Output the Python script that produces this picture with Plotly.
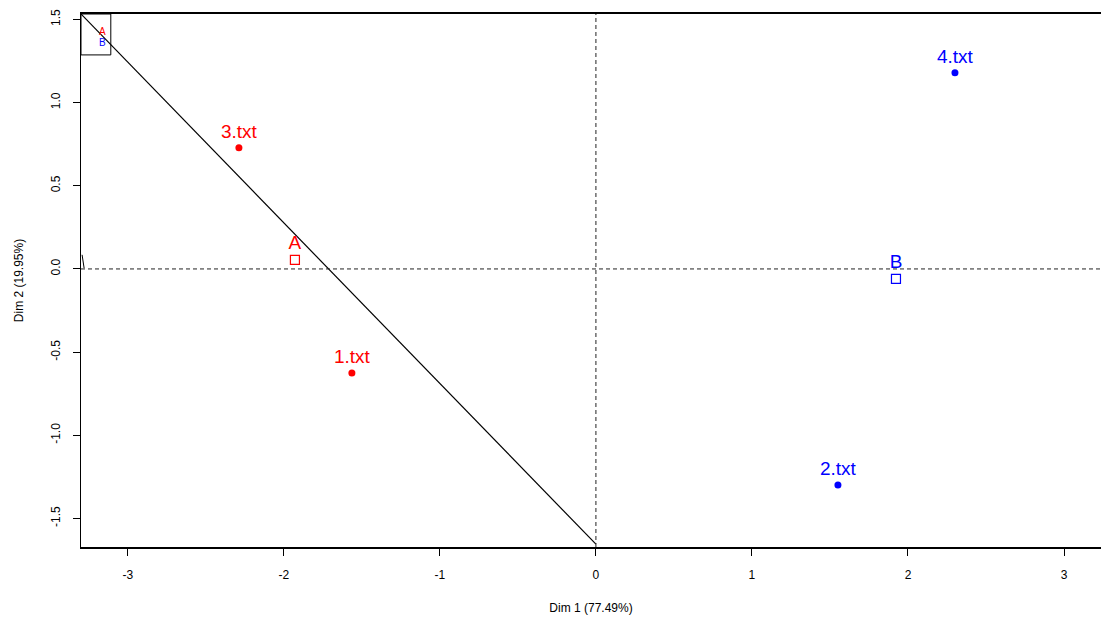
import plotly.graph_objects as go

# Individuals
ind_names = ["1.txt", "2.txt", "3.txt", "4.txt"]
ind_x = [-1.564, 1.551, -2.288, 2.301]
ind_y = [-0.625, -1.299, 0.728, 1.179]
ind_colors = ["#FF0000", "#0000FF", "#FF0000", "#0000FF"]

# Supplementary category centroids
cat_names = ["A", "B"]
cat_x = [-1.929, 1.923]
cat_y = [0.054, -0.060]
cat_colors = ["#FF0000", "#0000FF"]

# Axis
x_range = [-3.30, 3.237]
y_range = [-1.672, 1.533]
x_ticks = [-3, -2, -1, 0, 1, 2, 3]
x_ticklabels = ["-3", "-2", "-1", "0", "1", "2", "3"]
y_ticks = [-1.5, -1.0, -0.5, 0.0, 0.5, 1.0, 1.5]
y_ticklabels = ["-1.5", "-1.0", "-0.5", "0.0", "0.5", "1.0", "1.5"]

# Stray diagonal segment
diag_x = [-3.30, 0.0]
diag_y = [1.533, -1.655]

# Legend box
leg_x0, leg_x1 = -3.30, -3.109
leg_y0, leg_y1 = 1.287, 1.533

font = "Liberation Sans, Arial, sans-serif"

fig = go.Figure()

fig.add_trace(go.Scatter(x=diag_x, y=diag_y, mode="lines",
                         line=dict(color="black", width=1.2), hoverinfo="skip",
                         showlegend=False))

fig.add_trace(go.Scatter(
    x=ind_x, y=ind_y, mode="markers+text", text=ind_names,
    textposition="top center",
    textfont=dict(family=font, size=19, color=ind_colors),
    marker=dict(size=7, color=ind_colors), showlegend=False))

fig.add_trace(go.Scatter(
    x=cat_x, y=cat_y, mode="markers+text", text=cat_names,
    textposition="top center",
    textfont=dict(family=font, size=19, color=cat_colors),
    marker=dict(size=9, symbol="square-open", color=cat_colors, line=dict(width=1.2)),
    showlegend=False))

# small wedge near left axis
fig.add_trace(go.Scatter(x=[-3.293, -3.280], y=[0.085, 0.005], mode="lines",
                         line=dict(color="black", width=1), hoverinfo="skip",
                         showlegend=False))

fig.add_shape(type="line", x0=x_range[0], x1=x_range[1], y0=0, y1=0,
              line=dict(color="#222222", width=1, dash="4px,3px"))
fig.add_shape(type="line", x0=0, x1=0, y0=y_range[0], y1=y_range[1],
              line=dict(color="#222222", width=1, dash="4px,3px"))
fig.add_shape(type="rect", x0=leg_x0, x1=leg_x1, y0=leg_y0, y1=leg_y1,
              line=dict(color="black", width=1))

fig.add_annotation(x=(leg_x0 + leg_x1) / 2 + 0.045, y=1.43, text="A", showarrow=False,
                   font=dict(family=font, size=10, color="#FF0000"))
fig.add_annotation(x=(leg_x0 + leg_x1) / 2 + 0.045, y=1.36, text="B", showarrow=False,
                   font=dict(family=font, size=10, color="#0000FF"))

fig.update_layout(
    width=1101, height=617,
    margin=dict(l=81, r=0, t=14, b=70),
    paper_bgcolor="white", plot_bgcolor="white",
    font=dict(family=font, color="black"),
    xaxis=dict(range=x_range, tickvals=x_ticks, ticktext=x_ticklabels,
               ticks="outside", ticklen=7, tickcolor="black",
               showline=True, linecolor="black", linewidth=1.5, mirror=True,
               showgrid=False, zeroline=False, automargin=False,
               ticklabelstandoff=9,
               tickfont=dict(size=12),
               title=dict(text="Dim 1 (77.49%)", font=dict(size=12), standoff=22)),
    yaxis=dict(range=y_range, tickvals=y_ticks, ticktext=y_ticklabels,
               ticks="outside", ticklen=7, tickcolor="black", tickangle=-90,
               showline=True, linecolor="black", linewidth=1,
               showgrid=False, zeroline=False, automargin=False,
               ticklabelstandoff=8,
               tickfont=dict(size=12),
               title=dict(text="Dim 2 (19.95%)", font=dict(size=12), standoff=23)),
)

fig.write_html("out.html", config={"displayModeBar": False},
               post_script="document.body.style.margin='0';document.body.style.overflow='hidden';")
